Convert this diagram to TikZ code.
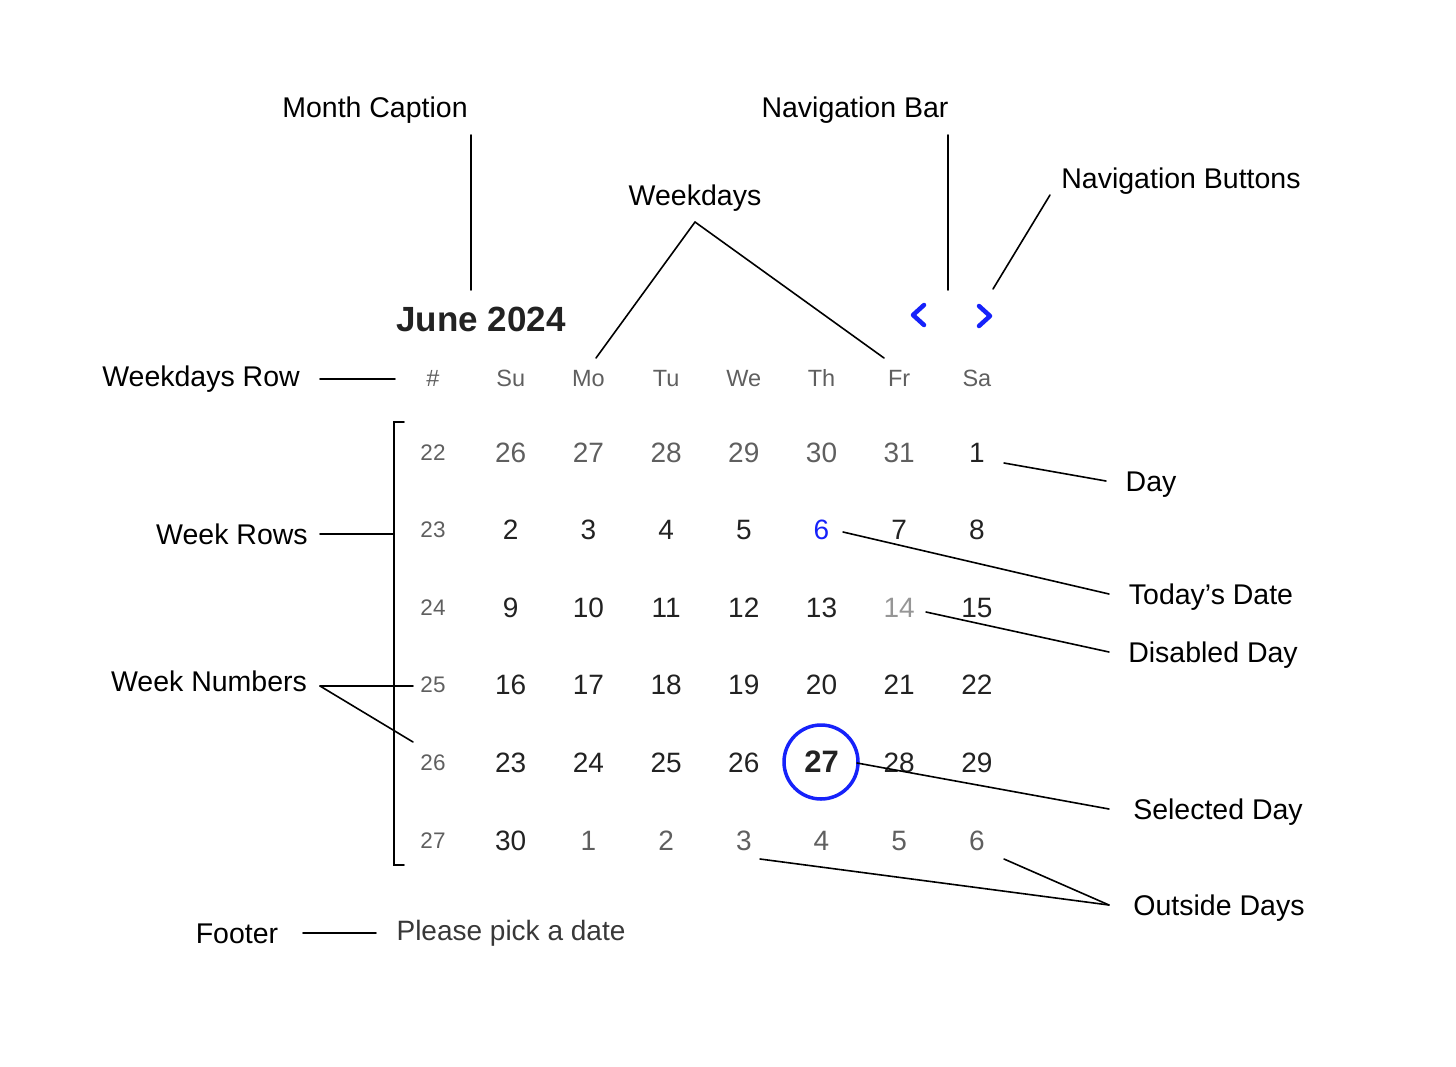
\documentclass[tikz,border=0pt]{standalone}
\usepackage{fontspec}
\setmainfont{Liberation Sans}
\usepackage{tkz-euclide}
\usepackage{amsmath}
\definecolor{calblue}{RGB}{22,34,250}
\definecolor{calink}{RGB}{34,34,34}
\definecolor{calgray}{RGB}{95,95,95}
\definecolor{caldis}{RGB}{150,150,150}

\begin{document}
\begin{tikzpicture}[x=1pt, y=-1pt,
    lbl/.style={inner sep=0pt, anchor=base, font=\fontsize{28.5}{32}\selectfont},
    wday/.style={inner sep=0pt, anchor=base, text=calgray, font=\fontsize{23.5}{26}\selectfont},
    dday/.style={inner sep=0pt, anchor=base, text=calink, font=\fontsize{28}{32}\selectfont},
    oday/.style={dday, text=calgray},
    tday/.style={dday, text=calblue},
    xday/.style={dday, text=caldis},
    sday/.style={dday, font=\fontsize{31}{34}\selectfont\bfseries},
    chev/.style={draw=calblue, line width=4.5pt, line cap=round, line join=round},
    cline/.style={line width=1.6pt}]
    \useasboundingbox (0,0) rectangle (1456,1066);
    \tkzDefPoints{471/135/mcA,471/290/mcB,948/135/nbA,948/290/nbB,1050/195/nuA,993/289/nuB,
      695/222/wdA,596/358/wdB,884/358/wdC,320/379/wrA,395/379/wrB,320/534/wkA,393/534/wkB,
      404/422/brA,394/422/brB,394/865/brC,404/865/brD,320/686/wnA,413/686/wnB,413/742/wnC,
      303/933/ftA,376/933/ftB,1004/463/dyA,1106/481/dyB,843/532/tdA,1109/594/tdB,
      926/612/ddA,1109/652/ddB,857/763/sdA,1109/809/sdB,760/859/odA,1109/905/odB,1004/859/odC,
      918/315/prev,985/316/next}
    % etichette
    \node[lbl] (mcap) at (375,117) {Month Caption};
    \node[lbl] (nbar) at (855,117) {Navigation Bar};
    \node[lbl] (nbut) at (1181,188) {Navigation Buttons};
    \node[lbl] (wdays) at (695,205) {Weekdays};
    \node[lbl] (wrow) at (201,386) {Weekdays Row};
    \node[lbl] (wrows) at (232,544) {Week Rows};
    \node[lbl] (wnums) at (209,691) {Week Numbers};
    \node[lbl] (foot) at (237,943) {Footer};
    \node[lbl] (lday) at (1151,491) {Day};
    \node[lbl] (ltoday) at (1211,604) {Today’s Date};
    \node[lbl] (ldis) at (1213,662) {Disabled Day};
    \node[lbl] (lsel) at (1218,819) {Selected Day};
    \node[lbl] (lout) at (1219,915) {Outside Days};
    % calendario
    \node[inner sep=0pt, anchor=base, text=calink, font=\fontsize{35}{40}\selectfont\bfseries] (month) at (481,331) {June 2024};
    \draw[chev, shift={(prev)}] (6,-10) -- (-5,0) -- (6,10);
    \draw[chev, shift={(next)}] (-6,-10) -- (5,0) -- (-6,10);
    \node[wday] (hnum) at (433,386) {\#};
    \foreach \d [count=\c] in {Su,Mo,Tu,We,Th,Fr,Sa}
      \node[wday] (h\c) at ({433+77.7*\c},386) {\d};
    \foreach \wk/\row [count=\r] in {
      22/{26/oday,27/oday,28/oday,29/oday,30/oday,31/oday,1/dday},
      23/{2/dday,3/dday,4/dday,5/dday,6/tday,7/dday,8/dday},
      24/{9/dday,10/dday,11/dday,12/dday,13/dday,14/xday,15/dday},
      25/{16/dday,17/dday,18/dday,19/dday,20/dday,21/dday,22/dday},
      26/{23/dday,24/dday,25/dday,26/dday,27/sday,28/dday,29/dday},
      27/{30/dday,1/oday,2/oday,3/oday,4/oday,5/oday,6/oday}}{
      \node[wday, font=\fontsize{22.5}{26}\selectfont] (w\r) at (433,{460+77.6*(\r-1)}) {\wk};
      \foreach \d/\s [count=\c] in \row
        \node[\s] (d\r-\c) at ({433+77.7*\c},{462+77.6*(\r-1)}) {\d};
    }
    \node[circle, draw=calblue, line width=3.5pt, minimum size=74pt, inner sep=0pt] (selc) at (821,762) {}; % giorno selezionato
    \node[dday, text=calink!90] (pick) at (511,940) {Please pick a date};
    % linee di richiamo
    \tkzDrawSegments[cline](mcA,mcB nbA,nbB nuA,nuB wdA,wdB wdA,wdC wrA,wrB wkA,wkB wnA,wnB wnA,wnC ftA,ftB dyA,dyB tdA,tdB ddA,ddB sdA,sdB odA,odB odC,odB)
    \tkzDrawPolySeg[cline](brA,brB,brC,brD)
    %\tkzDrawPoints(prev,next)
\end{tikzpicture}
\end{document}
